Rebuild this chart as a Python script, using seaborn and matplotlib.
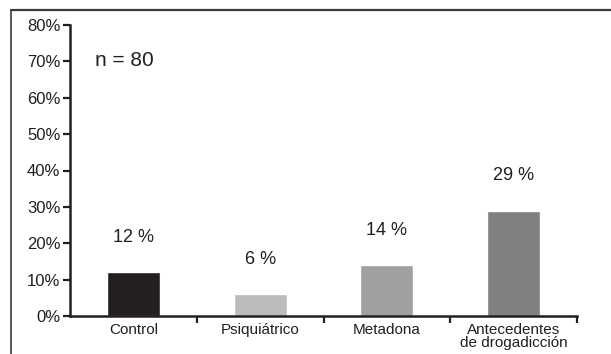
import matplotlib
matplotlib.use("Agg")
import matplotlib.pyplot as plt
from matplotlib.lines import Line2D
from matplotlib.ticker import FixedLocator, FuncFormatter
import seaborn as sns
import pandas as pd

# Data
categories = ["Control", "Psiquiátrico", "Metadona", "Antecedentes\nde drogadicción"]
percentages = [12, 6, 14, 29]
value_labels = ["12 %", "6 %", "14 %", "29 %"]
bar_colors = ["#231f20", "#bcbcbc", "#a0a0a0", "#808080"]
y_ticks = [0, 10, 20, 30, 40, 50, 60, 70, 80]
sample_note = "n = 80"

sns.set_style("ticks")
plt.rcParams["font.family"] = ["Liberation Sans", "DejaVu Sans"]

df = pd.DataFrame({"grupo": categories, "pct": percentages})

fig = plt.figure(figsize=(6.11, 3.54), dpi=100)
ax = fig.add_axes([70 / 611, 1 - 316 / 354, 507 / 611, 291 / 354])

sns.barplot(data=df, x="grupo", y="pct", hue="grupo", palette=bar_colors,
            width=0.42, legend=False, ax=ax, saturation=1)

ax.set_xlim(-0.5, 3.5)
ax.set_ylim(0, 80)
ax.set_yticks(y_ticks)
ax.yaxis.set_major_formatter(FuncFormatter(lambda v, _: f"{int(v)}%"))
ax.set_xlabel("")
ax.set_ylabel("")

# Category boundaries carry the x tick marks; labels sit at the centers
ax.xaxis.set_minor_locator(FixedLocator([0.5, 1.5, 2.5, 3.5]))
ax.tick_params(axis="x", which="major", length=0, labelsize=11, pad=5,
               labelcolor="#231f20")
ax.tick_params(axis="x", which="minor", length=5, width=1.6, color="#231f20")
ax.tick_params(axis="y", length=5, width=1.6, color="#231f20", labelsize=12,
               pad=2, labelcolor="#231f20")
for lab in ax.get_xticklabels():
    lab.set_linespacing(0.95)

sns.despine(ax=ax)
for side in ("left", "bottom"):
    ax.spines[side].set_linewidth(1.8)
    ax.spines[side].set_color("#231f20")

for i, (v, txt) in enumerate(zip(percentages, value_labels)):
    ax.annotate(txt, (i, v), xytext=(0, 25), textcoords="offset points",
                ha="center", va="center", fontsize=13, color="#231f20")

ax.text(25 / 507, 1 - 35 / 291, sample_note, transform=ax.transAxes, fontsize=15,
        ha="left", va="center", color="#231f20")

# Outer frame (left and top edges)
fig.add_artist(Line2D([10.5 / 611, 10.5 / 611], [0, 1 - 9.5 / 354],
                      transform=fig.transFigure, color="#3a3a3a", lw=1.2))
fig.add_artist(Line2D([10.5 / 611, 1], [1 - 9.5 / 354, 1 - 9.5 / 354],
                      transform=fig.transFigure, color="#3a3a3a", lw=1.6))

fig.savefig("out.png", dpi=100)
